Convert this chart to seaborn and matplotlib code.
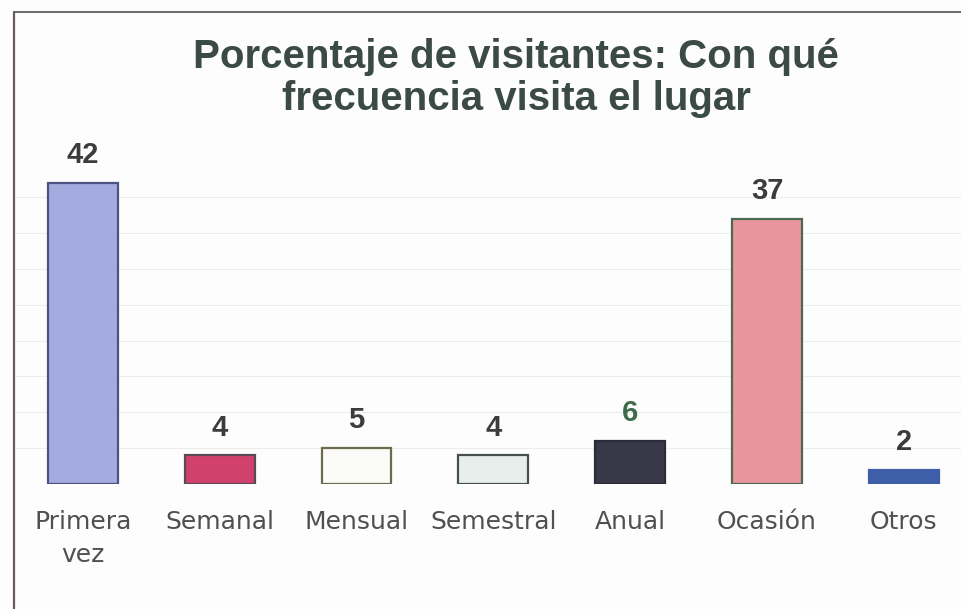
import matplotlib
matplotlib.use("Agg")
import matplotlib.pyplot as plt
import seaborn as sns
import pandas as pd

categorias = ["Primera\nvez", "Semanal", "Mensual", "Semestral", "Anual", "Ocasión", "Otros"]
porcentajes = [42, 4, 5, 4, 6, 37, 2]
colores = ["#a4acdf", "#d2416c", "#fbfbfa", "#e6efeb", "#393849", "#e9959e", "#3e5fa8"]
bordes = ["#4c5283", "#5a4a55", "#6e6a4c", "#46504c", "#2c2c38", "#4c6a52", "#3e5fa8"]
color_valores = ["#3c3c3c", "#3c3c3c", "#3c3c3c", "#3c3c3c", "#3d6b4c", "#3c3c3c", "#3c3c3c"]

df = pd.DataFrame({"categoria": categorias, "valor": porcentajes})

sns.set_theme(style="white")
plt.rcParams["font.family"] = ["Liberation Sans", "DejaVu Sans"]

fig = plt.figure(figsize=(9.61, 6.09), dpi=100)
fig.patch.set_facecolor("#fdfdfd")

# frame of the scanned chart
fig.add_artist(plt.Line2D([14 / 961, 1], [1 - 12 / 609, 1 - 12 / 609], color="#6a6a6a", lw=1.4))
fig.add_artist(plt.Line2D([14 / 961, 14 / 961], [0, 1 - 12 / 609], color="#6a5a66", lw=1.6))

ax = fig.add_axes([14 / 961, (609 - 484) / 609, 1 - 14 / 961, (484 - 12) / 609])
ax.set_facecolor("#fdfdfd")

sns.barplot(data=df, x="categoria", y="valor", hue="categoria", palette=colores,
            legend=False, width=0.51, ax=ax, saturation=1)

for patch, ec in zip(ax.patches, bordes):
    patch.set_edgecolor(ec)
    patch.set_linewidth(1.6)

ax.set_xlim(-0.504, 6.418)
ax.set_ylim(0, 65.8)

for y in range(5, 45, 5):
    ax.axhline(y, color="#ededed", lw=0.8, zorder=0)

for i, (v, c) in enumerate(zip(porcentajes, color_valores)):
    ax.annotate(str(v), (i, v), xytext=(0, 20), textcoords="offset points",
                ha="center", va="center", fontsize=21, fontweight="bold", color=c)

ax.set_xlabel("")
ax.set_ylabel("")
ax.set_yticks([])
ax.tick_params(axis="x", length=0, pad=19)
for lab in ax.get_xticklabels():
    lab.set_verticalalignment("top")
    lab.set_fontfamily("DejaVu Sans")
    lab.set_fontsize(18)
    lab.set_color("#505050")
    lab.set_linespacing(1.45)
for s in ax.spines.values():
    s.set_visible(False)

fig.text(516 / 961, 1 - 78 / 609, "Porcentaje de visitantes: Con qué\nfrecuencia visita el lugar",
         ha="center", va="center", fontsize=29, fontweight="bold", color="#3b4a46",
         linespacing=1.12)

fig.savefig("out.png", dpi=100, facecolor=fig.get_facecolor())
